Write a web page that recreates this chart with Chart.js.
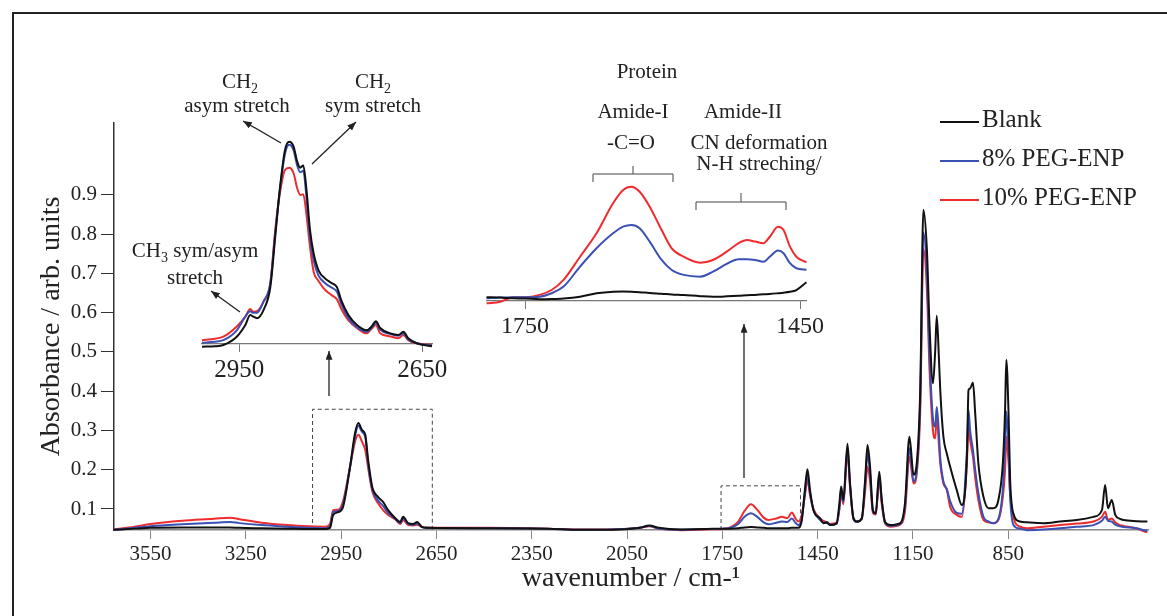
<!DOCTYPE html>
<html lang="en">
<head>
<meta charset="UTF-8">
<title>FTIR spectra - PEG-ENP</title>
<script src="https://cdn.jsdelivr.net/npm/chart.js"></script>
<style>
  body { margin: 0; width: 1167px; height: 616px; overflow: hidden; position: relative; background: #fff;
         font-family: 'Liberation Serif', 'Times New Roman', serif; color: #222; }
  canvas { position: absolute; }
  #frame { position: absolute; left: 12px; top: 12px; width: 1200px; height: 700px; border: 2px solid #222; }
  .note { position: absolute; transform: translate(-50%, -50%); white-space: nowrap; font-size: 21px; line-height: 1; }
  .note sub { font-size: 14px; line-height: 0; }
  .leg-line { position: absolute; left: 940px; width: 39px; height: 2px; }
  .leg-text { position: absolute; left: 982px; font-size: 25px; line-height: 1; white-space: nowrap; }
  svg { position: absolute; left: 0; top: 0; }
</style>
</head>
<body>
<div id="frame"></div>
<canvas id="main" width="1167" height="616" style="left:0;top:0"></canvas>
<canvas id="chInset" width="310" height="294" style="left:162px;top:100px"></canvas>
<canvas id="amInset" width="399" height="311" style="left:447px;top:40px"></canvas>

<svg width="1167" height="616">
  <defs>
    <marker id="head" viewBox="0 0 10 8" refX="10" refY="4" markerWidth="9" markerHeight="7"
            markerUnits="userSpaceOnUse" orient="auto">
      <path d="M0,0 L10,4 L0,8 Z" fill="#222"/>
    </marker>
  </defs>
  <g stroke="#222" stroke-width="1.3" fill="none">
    <line x1="281" y1="143" x2="243" y2="121" marker-end="url(#head)"/>
    <line x1="312" y1="164" x2="356" y2="122" marker-end="url(#head)"/>
    <line x1="240" y1="312" x2="211" y2="291" marker-end="url(#head)"/>
    <line x1="329" y1="396" x2="329" y2="351" marker-end="url(#head)"/>
    <line x1="744" y1="478" x2="744" y2="324" marker-end="url(#head)"/>
  </g>
  <g stroke="#444" stroke-width="1" fill="none">
    <polyline points="593,182 593,174 673,174 673,182"/>
    <line x1="633" y1="174" x2="633" y2="166"/>
    <polyline points="696,210 696,202 786,202 786,210"/>
    <line x1="741" y1="202" x2="741" y2="193"/>
  </g>
</svg>

<div class="note" style="left:240px;top:81px">CH<sub>2</sub></div>
<div class="note" style="left:237px;top:105px">asym stretch</div>
<div class="note" style="left:373px;top:81px">CH<sub>2</sub></div>
<div class="note" style="left:373px;top:105px">sym stretch</div>
<div class="note" style="left:195px;top:250px">CH<sub>3</sub> sym/asym</div>
<div class="note" style="left:195px;top:277px">stretch</div>
<div class="note" style="left:647px;top:71px">Protein</div>
<div class="note" style="left:633px;top:111px">Amide-I</div>
<div class="note" style="left:631px;top:142px">-C=O</div>
<div class="note" style="left:743px;top:111px">Amide-II</div>
<div class="note" style="left:759px;top:142px">CN deformation</div>
<div class="note" style="left:759px;top:163px">N-H streching/</div>

<div id="legend"></div>

<script>
// main spectrum
const wavenumber = [3665, 3600, 3550, 3450, 3350, 3300, 3270, 3200, 3120, 3050,
  3000, 2985, 2975, 2959, 2944, 2922, 2906, 2896, 2884, 2874,
  2865, 2852, 2834, 2818, 2802, 2780, 2764, 2755, 2739, 2723,
  2711, 2695, 2679, 2500, 2300, 2200, 2100, 2010, 1980, 1950,
  1880, 1800, 1750, 1725, 1700, 1680, 1660, 1640, 1620, 1605,
  1580, 1563, 1545, 1531, 1520, 1511, 1500, 1490, 1482, 1474,
  1463, 1442, 1432, 1420, 1411, 1390, 1382, 1376, 1369, 1356,
  1348, 1337, 1327, 1311, 1300, 1293, 1285, 1276, 1267, 1256,
  1248, 1238, 1222, 1190, 1175, 1161, 1148, 1138, 1127, 1117,
  1106, 1098, 1087, 1080, 1075, 1068, 1064, 1054, 1043, 1033,
  1012, 996, 980, 975, 970, 961, 954, 944, 928, 912,
  897, 881, 867, 860, 856, 849, 844, 834, 813, 791,
  739, 687, 634, 582, 555, 545, 536, 524, 513, 498,
  487, 445, 419, 412];
const blank = [0.047, 0.050, 0.052, 0.053, 0.053, 0.053, 0.052, 0.051, 0.050, 0.049,
  0.049, 0.052, 0.085, 0.092, 0.105, 0.207, 0.294, 0.319, 0.301, 0.289,
  0.225, 0.156, 0.131, 0.118, 0.097, 0.077, 0.067, 0.080, 0.064, 0.062,
  0.067, 0.054, 0.052, 0.051, 0.050, 0.047, 0.047, 0.052, 0.058, 0.052,
  0.048, 0.049, 0.050, 0.050, 0.051, 0.053, 0.054, 0.053, 0.052, 0.051,
  0.051, 0.051, 0.051, 0.052, 0.052, 0.052, 0.070, 0.150, 0.201, 0.148,
  0.097, 0.076, 0.064, 0.066, 0.059, 0.064, 0.110, 0.157, 0.123, 0.266,
  0.166, 0.076, 0.068, 0.076, 0.180, 0.263, 0.208, 0.097, 0.089, 0.195,
  0.123, 0.068, 0.059, 0.064, 0.115, 0.284, 0.187, 0.216, 0.403, 0.862,
  0.760, 0.573, 0.420, 0.500, 0.592, 0.480, 0.403, 0.284, 0.240, 0.208,
  0.148, 0.110, 0.233, 0.403, 0.407, 0.422, 0.344, 0.216, 0.131, 0.102,
  0.102, 0.123, 0.216, 0.350, 0.480, 0.344, 0.174, 0.089, 0.068, 0.066,
  0.064, 0.068, 0.072, 0.080, 0.097, 0.161, 0.102, 0.123, 0.085, 0.075,
  0.072, 0.069, 0.068, 0.068];
const peg8 = [0.047, 0.052, 0.056, 0.061, 0.065, 0.067, 0.064, 0.059, 0.055, 0.052,
  0.051, 0.056, 0.092, 0.095, 0.112, 0.207, 0.286, 0.312, 0.296, 0.283,
  0.215, 0.150, 0.122, 0.108, 0.090, 0.075, 0.064, 0.076, 0.062, 0.060,
  0.063, 0.054, 0.052, 0.051, 0.050, 0.047, 0.048, 0.052, 0.057, 0.050,
  0.047, 0.049, 0.050, 0.052, 0.062, 0.080, 0.089, 0.080, 0.066, 0.061,
  0.065, 0.068, 0.067, 0.076, 0.065, 0.059, 0.075, 0.140, 0.187, 0.140,
  0.097, 0.072, 0.066, 0.064, 0.060, 0.062, 0.100, 0.148, 0.118, 0.255,
  0.160, 0.075, 0.067, 0.075, 0.170, 0.240, 0.190, 0.095, 0.088, 0.185,
  0.118, 0.066, 0.057, 0.062, 0.105, 0.255, 0.170, 0.200, 0.380, 0.805,
  0.700, 0.500, 0.330, 0.310, 0.360, 0.290, 0.230, 0.170, 0.150, 0.120,
  0.090, 0.088, 0.250, 0.352, 0.300, 0.250, 0.200, 0.140, 0.080, 0.068,
  0.064, 0.075, 0.150, 0.260, 0.348, 0.250, 0.131, 0.060, 0.050, 0.046,
  0.048, 0.051, 0.055, 0.059, 0.070, 0.080, 0.070, 0.068, 0.060, 0.056,
  0.054, 0.051, 0.045, 0.044];
const peg10 = [0.048, 0.055, 0.062, 0.070, 0.075, 0.078, 0.074, 0.065, 0.059, 0.056,
  0.055, 0.062, 0.097, 0.098, 0.120, 0.207, 0.272, 0.289, 0.271, 0.250,
  0.205, 0.145, 0.115, 0.097, 0.085, 0.074, 0.062, 0.072, 0.059, 0.058,
  0.060, 0.054, 0.052, 0.052, 0.050, 0.048, 0.048, 0.052, 0.056, 0.050,
  0.046, 0.048, 0.049, 0.053, 0.068, 0.095, 0.112, 0.098, 0.078, 0.072,
  0.076, 0.080, 0.077, 0.091, 0.076, 0.068, 0.085, 0.135, 0.174, 0.135,
  0.100, 0.075, 0.070, 0.066, 0.062, 0.065, 0.095, 0.140, 0.112, 0.242,
  0.155, 0.074, 0.068, 0.076, 0.150, 0.208, 0.170, 0.090, 0.086, 0.174,
  0.112, 0.064, 0.055, 0.060, 0.095, 0.233, 0.165, 0.190, 0.350, 0.762,
  0.658, 0.460, 0.300, 0.280, 0.335, 0.260, 0.216, 0.165, 0.148, 0.106,
  0.085, 0.080, 0.216, 0.318, 0.276, 0.233, 0.180, 0.123, 0.072, 0.066,
  0.064, 0.072, 0.130, 0.199, 0.284, 0.220, 0.140, 0.080, 0.055, 0.051,
  0.055, 0.059, 0.063, 0.068, 0.080, 0.093, 0.072, 0.076, 0.066, 0.059,
  0.057, 0.050, 0.042, 0.041];

// CH stretch inset
const chWavenumber = [3011, 2990, 2976, 2954, 2940, 2932, 2927, 2921, 2910, 2899,
  2891, 2883, 2875, 2868, 2861, 2855, 2850, 2845, 2840, 2834,
  2828, 2820, 2809, 2798, 2790, 2782, 2771, 2757, 2741, 2733,
  2726, 2719, 2702, 2689, 2681, 2673, 2659, 2634];
const chBlank = [0.0465, 0.047, 0.0487, 0.0596, 0.075, 0.088, 0.086, 0.084, 0.095, 0.125,
  0.191, 0.257, 0.305, 0.316, 0.310, 0.290, 0.282, 0.285, 0.255, 0.200,
  0.169, 0.147, 0.136, 0.130, 0.125, 0.106, 0.088, 0.075, 0.068, 0.073,
  0.080, 0.071, 0.064, 0.062, 0.066, 0.0575, 0.051, 0.047];
const chPeg8 = [0.0517, 0.053, 0.055, 0.068, 0.086, 0.093, 0.091, 0.091, 0.106, 0.130,
  0.195, 0.255, 0.300, 0.312, 0.305, 0.285, 0.276, 0.278, 0.245, 0.190,
  0.160, 0.140, 0.130, 0.124, 0.119, 0.101, 0.084, 0.072, 0.066, 0.071,
  0.078, 0.069, 0.063, 0.061, 0.064, 0.056, 0.051, 0.048];
const chPeg10 = [0.055, 0.057, 0.0596, 0.073, 0.086, 0.096, 0.0925, 0.093, 0.106, 0.130,
  0.200, 0.250, 0.279, 0.282, 0.275, 0.255, 0.246, 0.247, 0.222, 0.178,
  0.145, 0.133, 0.121, 0.114, 0.109, 0.095, 0.081, 0.071, 0.064, 0.070,
  0.075, 0.064, 0.060, 0.0575, 0.062, 0.055, 0.051, 0.049];

// amide inset
const amWavenumber = [1792, 1777, 1763, 1750, 1734, 1721, 1708, 1690, 1672, 1654,
  1643, 1634, 1625, 1614, 1601, 1590, 1577, 1559, 1545, 1530,
  1517, 1508, 1499, 1490, 1483, 1474, 1468, 1461, 1454, 1443];
const amBlank = [0.0507, 0.0505, 0.0501, 0.0500, 0.0496, 0.0497, 0.0500, 0.0510, 0.0529, 0.0538,
  0.0539, 0.0538, 0.0535, 0.0530, 0.0526, 0.0522, 0.0519, 0.0513, 0.0510, 0.0512,
  0.0515, 0.0518, 0.0520, 0.0523, 0.0525, 0.0529, 0.0532, 0.0537, 0.0547, 0.0590];
const amPeg8 = [0.0501, 0.0505, 0.0507, 0.0507, 0.0510, 0.0529, 0.0566, 0.0677, 0.0779, 0.0862,
  0.0899, 0.0908, 0.0890, 0.0816, 0.0714, 0.0658, 0.0631, 0.0621, 0.0649, 0.0692,
  0.0718, 0.0718, 0.0714, 0.0704, 0.0732, 0.0766, 0.0751, 0.0696, 0.0668, 0.0660];
const amPeg10 = [0.0473, 0.0482, 0.0507, 0.0507, 0.0520, 0.0547, 0.0603, 0.0732, 0.0862, 0.1029,
  0.1103, 0.1121, 0.1093, 0.1010, 0.0880, 0.0779, 0.0732, 0.0699, 0.0714, 0.0760,
  0.0807, 0.0825, 0.0816, 0.0807, 0.0843, 0.0899, 0.0880, 0.0788, 0.0732, 0.0700];

const mainTicks = [3550, 3250, 2950, 2650, 2350, 2050, 1750, 1450, 1150, 850];
const absTicks = [0.1, 0.2, 0.3, 0.4, 0.5, 0.6, 0.7, 0.8, 0.9];
const chTicks = [2950, 2650];
const amTicks = [1750, 1450];
const seriesNames = ['Blank', '8% PEG-ENP', '10% PEG-ENP'];
// zoomed windows marked with dashed boxes: [from, to, top absorbance]
const zoomWindows = [[3040, 2663, 0.354], [1754, 1504, 0.159]];

const seriesColors = ['#111111', '#3a50b4', '#ee2c2e'];

Chart.defaults.font.family = "'Liberation Serif', 'Times New Roman', serif";
Chart.defaults.color = '#222';

function makeDatasets(xs, sets, width) {
  return sets.map((ys, i) => ({
    label: seriesNames[i],
    data: xs.map((x, j) => ({ x: x, y: ys[j] })),
    borderColor: seriesColors[i],
    borderWidth: width,
    pointRadius: 0,
    fill: false,
    clip: false,
    cubicInterpolationMode: 'monotone'
  }));
}

// dashed boxes showing the zoomed regions
const zoomBoxes = {
  id: 'zoomBoxes',
  beforeDatasetsDraw(chart) {
    const { ctx, chartArea } = chart;
    const x = chart.scales.x, y = chart.scales.y;
    ctx.save();
    ctx.setLineDash([4, 3]);
    ctx.strokeStyle = '#444';
    ctx.lineWidth = 1;
    zoomWindows.forEach(w => {
      const left = x.getPixelForValue(w[0]);
      const right = x.getPixelForValue(w[1]);
      const top = y.getPixelForValue(w[2]);
      ctx.beginPath();
      ctx.moveTo(left, chartArea.bottom);
      ctx.lineTo(left, top);
      ctx.lineTo(right, top);
      ctx.lineTo(right, chartArea.bottom);
      ctx.stroke();
    });
    ctx.restore();
  }
};

new Chart(document.getElementById('main'), {
  type: 'line',
  data: { datasets: makeDatasets(wavenumber, [blank, peg8, peg10], 2) },
  options: {
    responsive: false,
    animation: false,
    events: [],
    layout: { padding: { left: 0, top: 123, right: 19, bottom: 0 } },
    plugins: { legend: { display: false }, tooltip: { enabled: false } },
    scales: {
      x: {
        type: 'linear', reverse: true, min: 410, max: 3665,
        afterFit: s => { s.height = 86; },
        afterBuildTicks: s => { s.ticks = mainTicks.map(v => ({ value: v })); },
        border: { color: '#888', width: 1.5 },
        grid: { drawOnChartArea: false, tickLength: 9, color: '#888' },
        ticks: { font: { size: 21 }, color: '#222', padding: 3, maxRotation: 0, autoSkip: false,
                 callback: v => String(v) },
        title: { display: true, text: 'wavenumber / cm-\u00b9', font: { size: 28 }, color: '#222',
                 padding: { top: 0, bottom: 21 } }
      },
      y: {
        min: 0.0465, max: 1.083,
        afterFit: s => { s.width = 114; },
        afterBuildTicks: s => { s.ticks = absTicks.map(v => ({ value: v })); },
        border: { color: '#333', width: 1.5 },
        grid: { drawOnChartArea: false, tickLength: 13, color: '#333' },
        ticks: { font: { size: 21 }, color: '#222', padding: 4, callback: v => v.toFixed(1) },
        title: { display: true, text: 'Absorbance / arb. units', font: { size: 28 }, color: '#222',
                 padding: { top: 35, bottom: 0 } }
      }
    }
  },
  plugins: [zoomBoxes]
});

function insetChart(id, xs, sets, xMin, xMax, yMin, yMax, ticks, fontSize) {
  return new Chart(document.getElementById(id), {
    type: 'line',
    data: { datasets: makeDatasets(xs, sets, 2) },
    options: {
      responsive: false,
      animation: false,
      events: [],
      layout: { padding: { left: 40, right: 40, top: 20, bottom: 0 } },
      plugins: { legend: { display: false }, tooltip: { enabled: false } },
      scales: {
        x: {
          type: 'linear', reverse: true, min: xMin, max: xMax,
          afterFit: s => { s.height = 50; },
          afterBuildTicks: s => { s.ticks = ticks.map(v => ({ value: v })); },
          border: { color: '#777', width: 1.3 },
          grid: { drawOnChartArea: false, tickLength: 8, color: '#777' },
          ticks: { font: { size: fontSize }, color: '#222', padding: 3, maxRotation: 0, autoSkip: false,
                   callback: v => String(v) }
        },
        y: { display: false, min: yMin, max: yMax }
      }
    }
  });
}

insetChart('chInset', chWavenumber, [chBlank, chPeg8, chPeg10], 2634, 3011, 0.05, 0.3447, chTicks, 25);
insetChart('amInset', amWavenumber, [amBlank, amPeg8, amPeg10], 1443.5, 1791.5, 0.0486, 0.1825, amTicks, 24);

// legend
const legendRows = [106, 145, 184];
const legend = document.getElementById('legend');
seriesNames.forEach((name, i) => {
  const line = document.createElement('div');
  line.className = 'leg-line';
  line.style.top = (legendRows[i] + 15) + 'px';
  line.style.background = seriesColors[i];
  legend.appendChild(line);
  const label = document.createElement('div');
  label.className = 'leg-text';
  label.style.top = legendRows[i] + 'px';
  label.textContent = name;
  legend.appendChild(label);
});
</script>
</body>
</html>
